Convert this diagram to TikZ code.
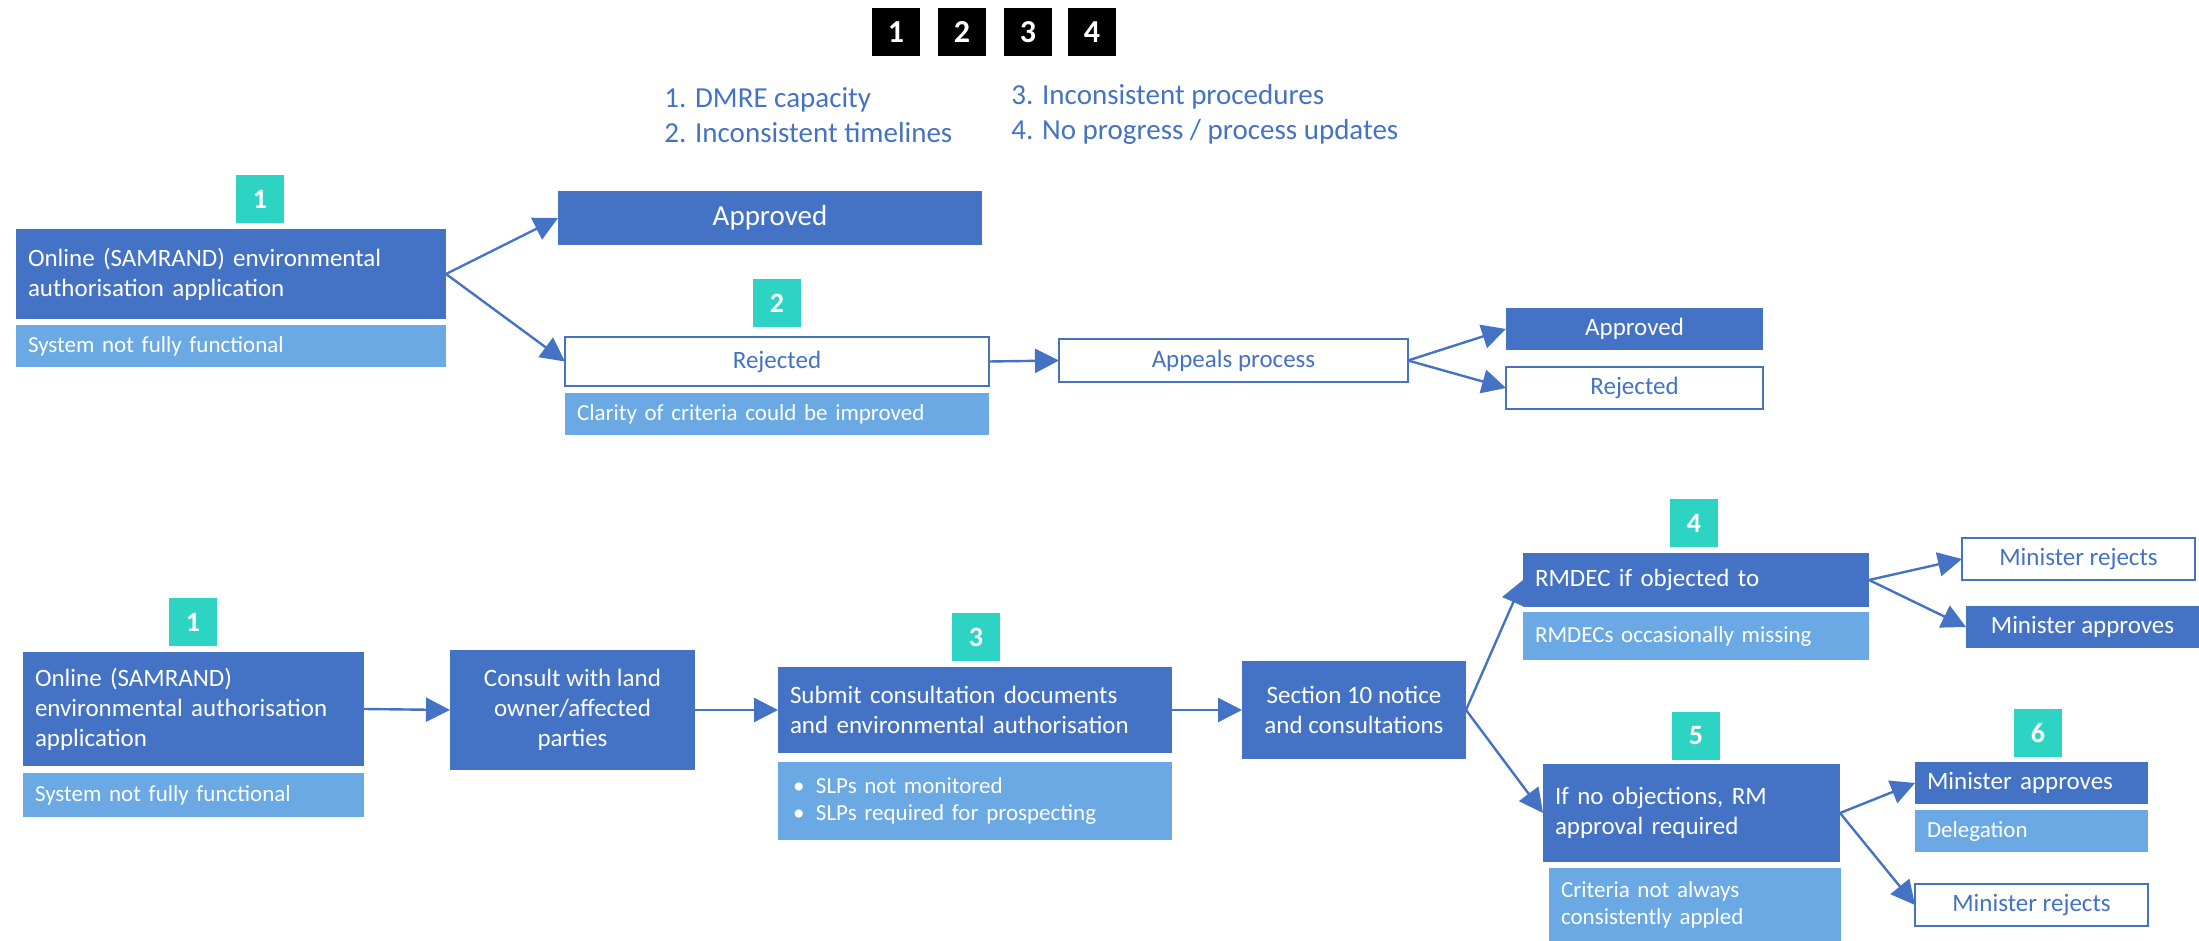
\documentclass[tikz,border=0pt]{standalone}
\usepackage{fontspec}
\setmainfont{Carlito}
\usetikzlibrary{arrows.meta}
\definecolor{dblue}{HTML}{4472C4}
\definecolor{lblue}{HTML}{6AA9E3}
\definecolor{tealbx}{HTML}{2DD4C4}
\tikzset{
 basebox/.style={rectangle, anchor=north west, inner sep=0pt, outer sep=0pt},
 dbox/.style={basebox, fill=dblue, text=white, font=\fontsize{12.5}{15}\selectfont},
 obox/.style={basebox, fill=white, draw=dblue, line width=1.2pt, text=dblue, font=\fontsize{12.5}{15}\selectfont},
 nbox/.style={basebox, fill=lblue, text=white, font=\fontsize{11.5}{13.5}\selectfont},
 lft/.style={align=left, text width=#1, inner xsep=6pt},
 ctr/.style={align=center},
 tealbox/.style={basebox, fill=tealbx, text=white, minimum width=24pt, minimum height=24pt, font=\fontsize{14}{14}\selectfont\bfseries},
 blackbox/.style={basebox, fill=black, text=white, minimum width=24pt, minimum height=24pt, font=\fontsize{16}{16}\selectfont\bfseries},
 conn/.style={draw=dblue, line width=1.2pt, -{Triangle[length=12pt,width=12pt]}},
 legend/.style={anchor=base west, text=dblue, font=\fontsize{14.5}{17}\selectfont, inner sep=0pt},
}
\begin{document}
\begin{tikzpicture}[x=0.5pt,y=-0.5pt]
\useasboundingbox (0,0) rectangle (2199,941);
% header keys
\node[blackbox] (k1) at (872,8) {1};
\node[blackbox] (k2) at (938,8) {2};
\node[blackbox] (k3) at (1004,8) {3};
\node[blackbox] (k4) at (1068,8) {4};
\node[legend] (l1) at (664,108) {1. DMRE capacity};
\node[legend] (l2) at (664,143) {2. Inconsistent timelines};
\node[legend] (l3) at (1011,105) {3. Inconsistent procedures};
\node[legend] (l4) at (1011,140) {4. No progress / process updates};
% top flow
\node[tealbox] (t1) at (236,175) {1};
\node[dbox, lft=203pt, minimum height=45pt] (on1) at (16,229) {Online (SAMRAND) environmental\\authorisation application};
\node[nbox, lft=203pt, minimum height=21pt] (sys1) at (16,325) {System not fully functional};
\node[dbox, ctr, minimum width=212pt, minimum height=27pt, font=\fontsize{14.5}{17}\selectfont] (appr1) at (558,191) {Approved};
\node[tealbox] (t2) at (753,279) {2};
\node[obox, ctr, minimum width=212pt, minimum height=24.5pt] (rej1) at (565,337) {Rejected};
\node[nbox, lft=200pt, minimum height=21pt] (clar) at (565,393) {Clarity of criteria could be improved};
\node[obox, ctr, minimum width=174.5pt, minimum height=21.5pt] (appeal) at (1059,339) {Appeals process};
\node[dbox, ctr, minimum width=128.5pt, minimum height=21pt] (appr2) at (1506,308) {Approved};
\node[obox, ctr, minimum width=128.5pt, minimum height=21pt] (rej2) at (1506,367) {Rejected};
\draw[conn] (on1.east) -- (appr1.west);
\draw[conn] (on1.east) -- (rej1.west);
\draw[conn] (rej1.east) -- (appeal.west);
\draw[conn] (appeal.east) -- (appr2.west);
\draw[conn] (appeal.east) -- (rej2.west);
% bottom flow
\node[tealbox] (t1b) at (169,598) {1};
\node[dbox, lft=158.5pt, minimum height=57pt] (on2) at (23,652) {Online (SAMRAND)\\environmental authorisation\\application};
\node[nbox, lft=158.5pt, minimum height=22pt] (sys2) at (23,773) {System not fully functional};
\node[dbox, ctr, minimum width=122.5pt, minimum height=60pt] (cons) at (450,650) {Consult with land\\owner/affected\\parties};
\node[tealbox] (t3) at (952,613) {3};
\node[dbox, lft=185pt, minimum height=43pt] (subm) at (778,667) {Submit consultation documents\\and environmental authorisation};
\node[nbox, lft=182pt, inner xsep=7.5pt, minimum height=39pt] (slp) at (778,762) {\makebox[11.5pt][l]{\textbullet}SLPs not monitored\\\makebox[11.5pt][l]{\textbullet}SLPs required for prospecting};
\node[dbox, ctr, minimum width=112pt, minimum height=49pt] (sec) at (1242,661) {Section 10 notice\\and consultations};
\node[tealbox] (t4) at (1670,499) {4};
\node[dbox, lft=161pt, minimum height=27pt] (rmd) at (1523,553) {RMDEC if objected to};
\node[nbox, lft=161pt, minimum height=24pt] (rmdm) at (1523,612) {RMDECs occasionally missing};
\node[obox, ctr, minimum width=116.5pt, minimum height=21pt] (mrej1) at (1962,538) {Minister rejects};
\node[dbox, ctr, minimum width=116.5pt, minimum height=21pt] (mapp1) at (1966,606) {Minister approves};
\node[tealbox] (t5) at (1672,712) {5};
\node[dbox, lft=136.5pt, minimum height=49pt] (ifno) at (1543,764) {If no objections, RM\\approval required\\[6pt]};
\node[nbox, lft=134pt, minimum height=36.5pt] (crit) at (1549,868) {Criteria not always\\consistently appled};
\node[tealbox] (t6) at (2014,709) {6};
\node[dbox, lft=104.5pt, minimum height=21pt] (mapp2) at (1915,762) {Minister approves};
\node[nbox, lft=104.5pt, minimum height=21pt] (deleg) at (1915,810) {Delegation};
\node[obox, ctr, minimum width=116.5pt, minimum height=21pt] (mrej2) at (1915,884) {Minister rejects};
\draw[conn] (on2.east) -- (cons.west);
\draw[conn] (cons.east) -- (subm.west);
\draw[conn] (subm.east) -- (sec.west);
\draw[conn] (sec.east) -- (rmd.west);
\draw[conn] (sec.east) -- (ifno.west);
\draw[conn] (rmd.east) -- (mrej1.west);
\draw[conn] (rmd.east) -- (mapp1.west);
\draw[conn] (ifno.east) -- (mapp2.west);
\draw[conn] (ifno.east) -- (mrej2.west);
\end{tikzpicture}
\end{document}
